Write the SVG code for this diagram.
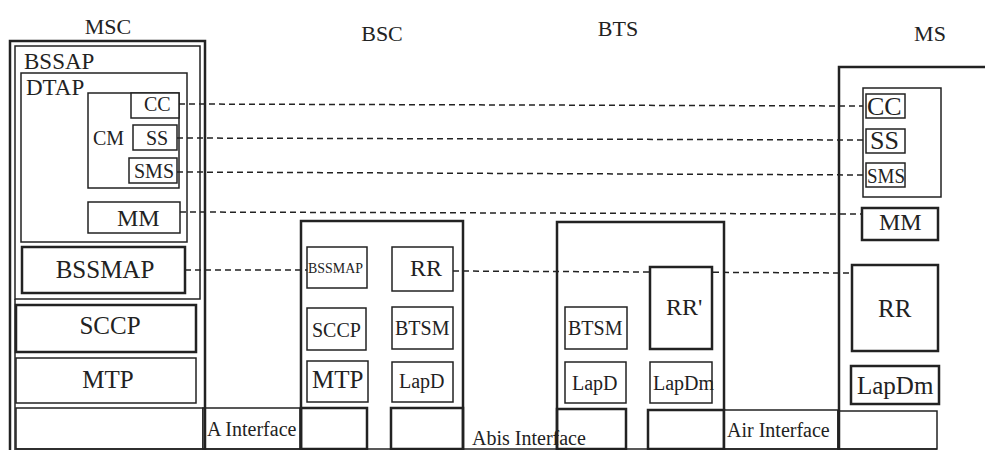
<svg xmlns="http://www.w3.org/2000/svg" width="985" height="450" viewBox="0 0 985 450" font-family="'Liberation Serif', 'DejaVu Serif', 'Times New Roman', serif">
<style>
  text { font-family: "Liberation Serif", "DejaVu Serif", "Times New Roman", serif; fill: #222; }
  .b { fill: #fff; stroke: #222; stroke-width: 1.5; }
  .n { fill: none; stroke: #222; stroke-width: 1.5; }
  .t { fill: #fff; stroke: #222; stroke-width: 2.5; }
  .o { fill: none; stroke: #222; stroke-width: 2.5; }
  .d { fill: none; stroke: #222; stroke-width: 1.5; stroke-dasharray: 6 4; }
  .h { font-size: 22px; text-anchor: middle; }
</style>
<rect width="985" height="450" fill="#fff"/>

<g id="headers">
  <text class="h" x="108" y="34">MSC</text>
  <text class="h" x="382" y="41">BSC</text>
  <text class="h" x="618" y="36">BTS</text>
  <text class="h" x="930" y="41">MS</text>
</g>

<g id="bottom-row">
  <rect class="b" x="16" y="408" width="187" height="41"/>
  <rect class="b" x="203" y="408" width="97" height="41"/>
  <rect class="t" x="301" y="408" width="66" height="41"/>
  <rect class="t" x="391" y="408" width="72" height="41"/>
  <rect class="t" x="557" y="409" width="69" height="40"/>
  <rect class="t" x="648" y="410" width="76" height="39"/>
  <rect class="b" x="724" y="410" width="114" height="39"/>
  <rect class="b" x="838" y="411" width="99" height="38"/>
  <line x1="16" y1="449" x2="937" y2="449" stroke="#222" stroke-width="1.5"/>
  <text x="207" y="436" font-size="20">A Interface</text>
  <text x="472" y="445" font-size="20">Abis Interface</text>
  <text x="727" y="437" font-size="20">Air Interface</text>
</g>

<g id="connectors">
  <line class="d" x1="179" y1="104" x2="866" y2="106"/>
  <line class="d" x1="177" y1="138" x2="866" y2="140"/>
  <line class="d" x1="177" y1="172" x2="866" y2="175"/>
  <line class="d" x1="180" y1="212" x2="862" y2="214"/>
  <line class="d" x1="185" y1="270" x2="307" y2="270"/>
  <line class="d" x1="453" y1="271" x2="852" y2="273"/>
</g>

<g id="MSC">
  <rect class="o" x="10" y="41" width="195" height="420"/>
  <line x1="15" y1="299" x2="15" y2="450" stroke="#222" stroke-width="1.5"/>
  <rect class="n" x="15" y="46" width="185" height="253"/>
  <text x="24" y="69" font-size="23">BSSAP</text>
  <rect class="n" x="21" y="73" width="166" height="169"/>
  <text x="26" y="95" font-size="23">DTAP</text>
  <rect class="n" x="88" y="93" width="91" height="95"/>
  <text x="93" y="145" font-size="20">CM</text>
  <rect class="b" x="131" y="93" width="48" height="25"/>
  <text x="144" y="111" font-size="20">CC</text>
  <rect class="b" x="133" y="125" width="44" height="25"/>
  <text x="146" y="145" font-size="20">SS</text>
  <rect class="b" x="129" y="158" width="48" height="25"/>
  <text x="134" y="178" font-size="20">SMS</text>
  <rect class="b" x="88" y="202" width="92" height="31"/>
  <text x="117" y="226" font-size="24">MM</text>
  <rect class="t" x="22" y="247" width="163" height="46"/>
  <text x="105" y="278" font-size="25" text-anchor="middle">BSSMAP</text>
  <rect class="t" x="16" y="305" width="180" height="47"/>
  <text x="110" y="334" font-size="25" text-anchor="middle">SCCP</text>
  <rect class="b" x="16" y="358" width="180" height="45"/>
  <text x="108" y="388" font-size="25" text-anchor="middle">MTP</text>
</g>

<g id="BSC">
  <rect class="o" x="301" y="221" width="162" height="240"/>
  <rect class="b" x="307" y="247" width="60" height="41"/>
  <text x="308" y="273" font-size="15" textLength="55" lengthAdjust="spacingAndGlyphs">BSSMAP</text>
  <rect class="b" x="392" y="247" width="61" height="44"/>
  <text x="410" y="276" font-size="24">RR</text>
  <rect class="b" x="307" y="308" width="59" height="42"/>
  <text x="312" y="337" font-size="20">SCCP</text>
  <rect class="b" x="392" y="307" width="61" height="42"/>
  <text x="395" y="335" font-size="20">BTSM</text>
  <rect class="b" x="307" y="361" width="61" height="41"/>
  <text x="312" y="388" font-size="25">MTP</text>
  <rect class="b" x="392" y="362" width="61" height="40"/>
  <text x="399" y="388" font-size="20">LapD</text>
</g>

<g id="BTS">
  <rect class="o" x="557" y="222" width="167" height="240"/>
  <rect class="t" x="650" y="267" width="62" height="82"/>
  <text x="666" y="315" font-size="24">RR'</text>
  <rect class="b" x="565" y="307" width="62" height="42"/>
  <text x="568" y="335" font-size="20">BTSM</text>
  <rect class="b" x="565" y="362" width="61" height="41"/>
  <text x="572" y="390" font-size="20">LapD</text>
  <rect class="b" x="650" y="362" width="62" height="41"/>
  <text x="653" y="390" font-size="20">LapDm</text>
</g>

<g id="MS">
  <rect class="o" x="839" y="67" width="160" height="400"/>
  <rect class="b" x="863" y="88" width="78" height="109"/>
  <rect class="b" x="866" y="94" width="39" height="24"/>
  <text x="867" y="115" font-size="26">CC</text>
  <rect class="b" x="866" y="129" width="39" height="24"/>
  <text x="870" y="149" font-size="26">SS</text>
  <rect class="b" x="866" y="163" width="39" height="24"/>
  <text x="867" y="183" font-size="20" textLength="38" lengthAdjust="spacingAndGlyphs">SMS</text>
  <rect class="t" x="862" y="208" width="76" height="32"/>
  <text x="879" y="230" font-size="24">MM</text>
  <rect class="t" x="852" y="265" width="86" height="86"/>
  <text x="878" y="317" font-size="25">RR</text>
  <rect class="t" x="851" y="366" width="88" height="38"/>
  <text x="857" y="394" font-size="25">LapDm</text>
</g>
</svg>
